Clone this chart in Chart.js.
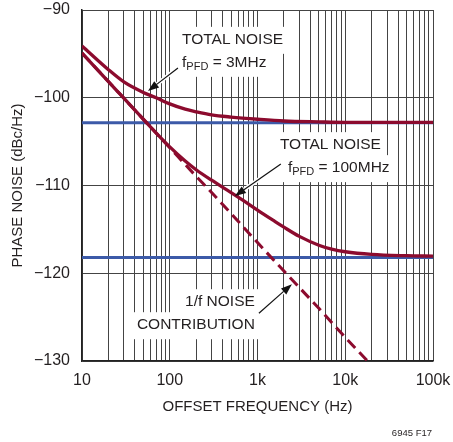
<!DOCTYPE html>
<html><head><meta charset="utf-8">
<script src="https://cdn.jsdelivr.net/npm/chart.js@4/dist/chart.umd.min.js"></script>
<style>html,body{margin:0;padding:0;background:#fff}#wrap{width:453px;height:442px;position:relative}</style>
</head><body><div id="wrap"><canvas id="c" width="453" height="442"></canvas></div>
<script>
const FONT = "'Liberation Sans Narrow','Arial Narrow','Liberation Sans',Arial,sans-serif";
const TEXT = '#231f20';
const RED = '#8c0b2e';
const BLUE = '#3c5aa8';

// ---- data ----
const freqTotal3 = [10,20,30,50,70,100,150,200,300,500,1000,2000,5000,10000,100000];
const total3MHz = [-94.1,-96.8,-98.2,-99.4,-100.0,-100.7,-101.3,-101.6,-101.95,-102.2,-102.45,-102.65,-102.75,-102.8,-102.8];
const freqTotal100 = [10,20,50,100,150,200,300,500,700,1000,1500,2000,3000,5000,7000,10000,20000,50000,100000];
const total100MHz = [-94.9,-98.15,-102.45,-105.6,-107.2,-108.2,-109.4,-110.8,-111.75,-112.8,-113.95,-114.75,-115.8,-116.8,-117.25,-117.55,-117.85,-118.0,-118.05];
const freqFlicker = [10,20,50,100,200,300,500,1000,2000,5000,10000,20000];
const flickerNoise = [-94.9,-98.15,-102.45,-105.7,-108.95,-110.8,-113.2,-116.5,-119.75,-124.0,-127.3,-130.5];
const freqFloor = [10,100000];
const floor3MHz = [-102.85,-102.85];
const floor100MHz = [-118.2,-118.2];
const xTickLabels = {10:'10',100:'100',1000:'1k',10000:'10k',100000:'100k'};
const yTickValues = [-130,-120,-110,-100,-90];

// annotation texts (anchored in data coordinates: [freq, dB])
const labels = [
  {lines:[[{t:'TOTAL NOISE'}],[{t:'f'},{t:'PFD',sub:true},{t:' = 3MHz'}]], at:[138,-93.4], align:'left', lineGap:23},
  {lines:[[{t:'TOTAL NOISE'}],[{t:'f'},{t:'PFD',sub:true},{t:' = 100MHz'}]], at:[1800,-105.4], align:'left', lineGap:23, indent:[0,8]},
  {lines:[[{t:'1/f NOISE'}],[{t:'CONTRIBUTION'}]], at:[933,-123.3], align:'right', lineGap:23}
];
const arrows = [
  {from:[124,-96.6], to:[56.5,-99.24]},
  {from:[1845,-107.56], to:[553,-111.2]},
  {from:[1038,-124.55], to:[2466,-121.24]}
];

const BIG = 15.5, SMALL = 11;
const pts = (xs, ys) => xs.map((x,i)=>({x:x, y:ys[i]}));

function lineWidthOf(ctx, segs){
  let w=0; for(const s of segs){ ctx.font = (s.sub?SMALL:BIG)+'px '+FONT; w+=ctx.measureText(s.t).width; } return w;
}

const annot = {
  id:'annot',
  beforeDatasetsDraw(chart){
    const {ctx, scales:{x,y}} = chart;
    ctx.save();
    ctx.fillStyle='#fff';
    for(const L of labels){
      const px=x.getPixelForValue(L.at[0]), py=y.getPixelForValue(L.at[1]);
      L.lines.forEach((segs,i)=>{
        const w=lineWidthOf(ctx,segs);
        const ind=(L.indent||[])[i]||0;
        const lx = L.align==='left'? px+ind : px-w;
        const ly = py + i*L.lineGap;
        ctx.fillRect(lx-5, ly-13, w+10, 27);
      });
    }
    ctx.restore();
  },
  afterDatasetsDraw(chart){
    const {ctx, scales:{x,y}} = chart;
    ctx.save();
    ctx.fillStyle=TEXT; ctx.textBaseline='middle';
    for(const L of labels){
      const px=x.getPixelForValue(L.at[0]), py=y.getPixelForValue(L.at[1]);
      L.lines.forEach((segs,i)=>{
        const w=lineWidthOf(ctx,segs);
        const ind=(L.indent||[])[i]||0;
        let lx = L.align==='left'? px+ind : px-w;
        const ly = py + i*L.lineGap;
        for(const s of segs){
          ctx.font=(s.sub?SMALL:BIG)+'px '+FONT;
          ctx.fillText(s.t, lx, s.sub? ly+4 : ly);
          lx+=ctx.measureText(s.t).width;
        }
      });
    }
    for(const A of arrows){
      const x1=x.getPixelForValue(A.from[0]), y1=y.getPixelForValue(A.from[1]);
      const x2=x.getPixelForValue(A.to[0]), y2=y.getPixelForValue(A.to[1]);
      const ang=Math.atan2(y2-y1,x2-x1);
      const hl=11, hw=4;
      const bx=x2-hl*Math.cos(ang), by=y2-hl*Math.sin(ang);
      ctx.strokeStyle='#fff'; ctx.lineWidth=4;
      ctx.beginPath(); ctx.moveTo(x1,y1); ctx.lineTo(bx,by); ctx.stroke();
      ctx.strokeStyle='#111'; ctx.lineWidth=1.2;
      ctx.beginPath(); ctx.moveTo(x1,y1); ctx.lineTo(bx,by); ctx.stroke();
      ctx.fillStyle='#111';
      ctx.beginPath();
      ctx.moveTo(x2,y2);
      ctx.lineTo(bx+hw*Math.sin(ang), by-hw*Math.cos(ang));
      ctx.lineTo(bx-hw*Math.sin(ang), by+hw*Math.cos(ang));
      ctx.closePath(); ctx.fill();
    }
    ctx.restore();
  },
  afterDraw(chart){
    const {ctx} = chart;
    ctx.save();
    ctx.fillStyle=TEXT; ctx.font='9.5px '+FONT; ctx.textAlign='right'; ctx.textBaseline='middle';
    ctx.fillText('6945 F17', 432, 433);
    ctx.restore();
  }
};

new Chart(document.getElementById('c'), {
  type:'scatter',
  data:{datasets:[
    {label:'Total noise fPFD=3MHz', data:pts(freqTotal3,total3MHz), showLine:true, borderColor:RED, borderWidth:3.3, pointRadius:0, cubicInterpolationMode:'monotone', order:1},
    {label:'Total noise fPFD=100MHz', data:pts(freqTotal100,total100MHz), showLine:true, borderColor:RED, borderWidth:3.3, pointRadius:0, cubicInterpolationMode:'monotone', order:1},
    {label:'1/f noise contribution', data:pts(freqFlicker,flickerNoise), showLine:true, borderColor:RED, borderWidth:3, borderDash:[11,6], pointRadius:0, cubicInterpolationMode:'monotone', order:1},
    {label:'Floor 3MHz', data:pts(freqFloor,floor3MHz), showLine:true, borderColor:BLUE, borderWidth:3, pointRadius:0, order:2},
    {label:'Floor 100MHz', data:pts(freqFloor,floor100MHz), showLine:true, borderColor:BLUE, borderWidth:3, pointRadius:0, order:2}
  ]},
  options:{
    responsive:false, animation:false, devicePixelRatio:1,
    layout:{padding:{left:0,right:20,top:10,bottom:0}},
    plugins:{legend:{display:false}, tooltip:{enabled:false}},
    scales:{
      x:{type:'logarithmic', min:10, max:100000,
        afterBuildTicks:(s)=>{const t=[];for(let d=10;d<=100000;d*=10){for(let m=1;m<10;m++){const v=d*m;if(v>100000)break;t.push({value:v});}}s.ticks=t;},
        afterFit:(s)=>{s.height=81; s.paddingLeft=0; s.paddingRight=0;},
        ticks:{autoSkip:false, maxRotation:0, padding:10, color:TEXT, font:{family:FONT,size:16}, callback:(v)=>xTickLabels[v]??''},
        grid:{color:'#444', lineWidth:1, drawTicks:false},
        border:{color:'#222', width:1.5},
        title:{display:true, text:'OFFSET FREQUENCY (Hz)', color:TEXT, font:{family:FONT,size:15}, padding:{top:0,bottom:26}}
      },
      y:{type:'linear', min:-130, max:-90,
        afterBuildTicks:(s)=>{s.ticks=yTickValues.map(v=>({value:v}));},
        afterFit:(s)=>{s.width=82; s.paddingTop=0; s.paddingBottom=0;},
        ticks:{padding:12, color:TEXT, font:{family:FONT,size:16}, callback:(v)=>'\u2212'+Math.abs(v)},
        grid:{color:'#444', lineWidth:1, drawTicks:false},
        border:{color:'#222', width:1.5},
        title:{display:true, text:'PHASE NOISE (dBc/Hz)', color:TEXT, font:{family:FONT,size:15}, padding:{top:9,bottom:0}}
      }
    }
  },
  plugins:[annot]
});
</script></body></html>
